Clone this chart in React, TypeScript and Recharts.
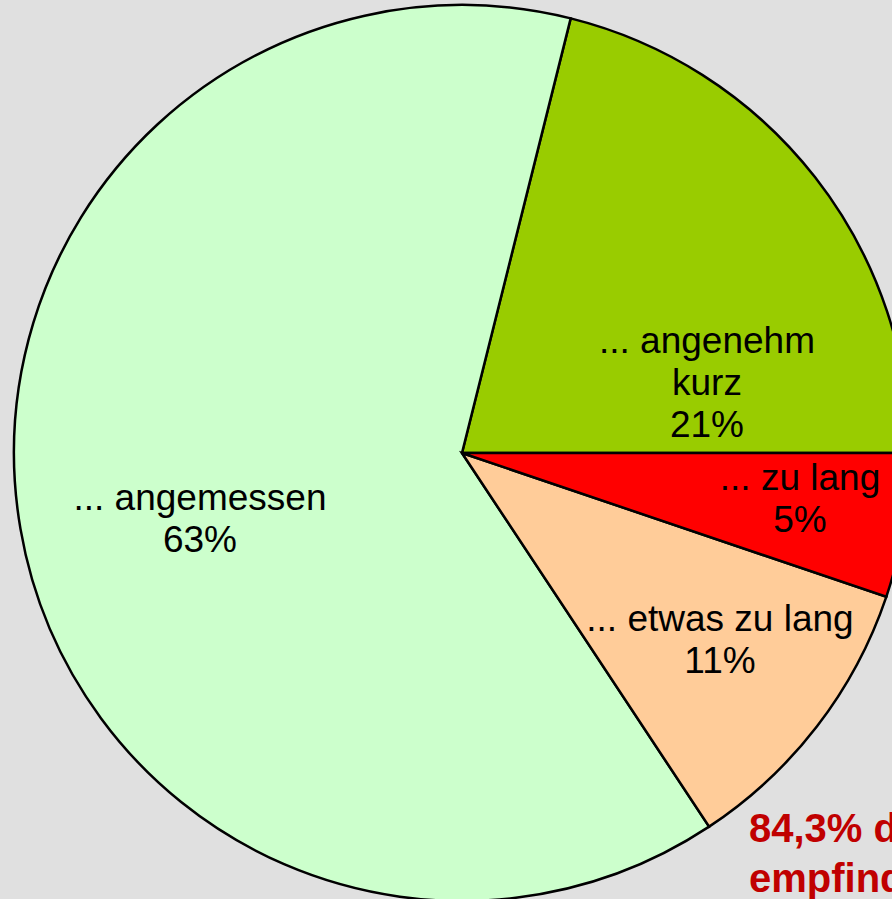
import React from 'react'
import { PieChart, Pie, Cell } from 'recharts'

const categories = ['... angenehm kurz', '... angemessen', '... etwas zu lang', '... zu lang']
const shares = [21.1, 63.2, 10.5, 5.2]
const labelLines = [['... angenehm', 'kurz'], ['... angemessen'], ['... etwas zu lang'], ['... zu lang']]
const colors = ['#99CC00', '#CCFFCC', '#FFCC99', '#FF0000']
const noteLines = ['84,3% der Befragten', 'empfinden die Dauer']

// label anchor (first line centre) relative to pie centre
const labelOffsets = [
	[245, -113],
	[-262, 44],
	[258, 165],
	[338, 24],
]

const data = categories.map((name, i) => ({ name, value: shares[i] }))

function renderLabel(props: any) {
	const { cx, cy, index, value } = props
	const [dx, dy] = labelOffsets[index]
	const lines = [...labelLines[index], `${Math.round(value)}%`]
	return (
		<text
			x={cx + dx}
			y={cy + dy}
			textAnchor='middle'
			dominantBaseline='central'
			fill='#000'
			fontSize={37}
			fontFamily='"Liberation Sans", Arial, sans-serif'
		>
			{lines.map((l, i) => (
				<tspan key={i} x={cx + dx} dy={i === 0 ? 0 : 42}>
					{l}
				</tspan>
			))}
		</text>
	)
}

export default function App() {
	return (
		<div
			style={{
				position: 'absolute',
				left: 0,
				top: 0,
				width: 892,
				height: 899,
				background: '#E0E0E0',
				overflow: 'hidden',
			}}
		>
			<PieChart width={892} height={899} margin={{ top: 0, right: 0, bottom: 0, left: 0 }}>
				<Pie
					data={data}
					dataKey='value'
					nameKey='name'
					cx={462}
					cy={453}
					outerRadius={448}
					startAngle={0}
					endAngle={360}
					stroke='#000'
					strokeWidth={2.5}
					label={renderLabel}
					labelLine={false}
					isAnimationActive={false}
				>
					{data.map((d, i) => (
						<Cell key={d.name} fill={colors[i]} />
					))}
				</Pie>
			</PieChart>
			<div
				style={{
					position: 'absolute',
					left: 749,
					top: 803,
					color: '#C00000',
					fontWeight: 'bold',
					fontSize: 40,
					lineHeight: '50px',
					whiteSpace: 'nowrap',
					fontFamily: '"Liberation Sans", Arial, sans-serif',
				}}
			>
				{noteLines.map((l) => (
					<div key={l}>{l}</div>
				))}
			</div>
		</div>
	)
}
